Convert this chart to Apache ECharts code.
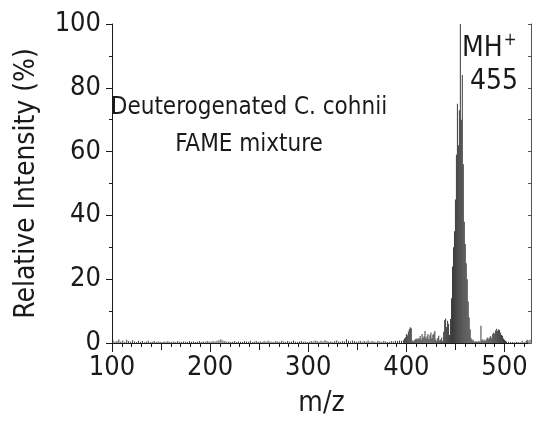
<!DOCTYPE html>
<html>
<head>
<meta charset="utf-8">
<script src="https://cdn.jsdelivr.net/npm/echarts@6/dist/echarts.min.js"></script>
<style>
  html, body { margin: 0; padding: 0; background: #fff; }
  #chart { width: 536px; height: 423px; }
</style>
</head>
<body>
<div id="chart"></div>
<script>
// tick labels
const xTickLabels = [100, 200, 300, 400, 500];
const xMidTicks = [150, 250, 350, 450];
const yTickLabels = [0, 20, 40, 60, 80, 100];

// low level noise, one value every 2 m/z starting at 101
const noiseStart = 101;
const noiseStep = 2;
const noiseInt = [
    0.9, 0.4, 0.6, 1.1, 0.5, 0.8, 0.3, 1.0, 0.6, 0.4, 0.9, 0.5, 0.3, 0.7, 0.4, 0.6, 0.2, 0.5, 0.7, 0.3, 0.4, 0.6, 0.3, 0.5, 0.4,
    0.3, 0.5, 0.4, 0.6, 0.3, 0.4, 0.5, 0.3, 0.6, 0.4, 0.3, 0.5, 0.4, 0.3, 0.6, 0.4, 0.5, 0.3, 0.4, 0.6, 0.3, 0.5, 0.4, 0.6, 0.5,
    0.4, 0.6, 0.5, 0.7, 0.9, 1.2, 0.8, 0.6, 0.4, 0.5, 0.3, 0.4, 0.6, 0.3, 0.5, 0.4, 0.3, 0.6, 0.5, 0.4, 0.7, 0.3, 0.5, 0.6, 0.4,
    0.5, 0.3, 0.6, 0.4, 0.7, 0.5, 0.4, 0.3, 0.6, 0.5, 0.4, 0.7, 0.5, 0.3, 0.6, 0.4, 0.5, 0.8, 0.4, 0.3, 0.5, 0.6, 0.4, 0.5, 0.3,
    0.4, 0.6, 0.5, 0.8, 0.6, 0.4, 0.7, 0.5, 0.9, 0.6, 0.4, 0.5, 0.3, 0.6, 0.8, 0.5, 0.4, 0.6, 0.5, 1.2, 0.7, 0.5, 0.8, 0.6, 0.4,
    0.5, 0.7, 0.4, 0.6, 0.5, 0.8, 0.4, 0.6, 0.5, 0.3, 0.7, 0.5, 0.4, 0.6, 0.5, 0.3, 0.4, 0.6, 0.5, 0.7, 0.6, 0.8, 0.7, 0.9
];

// ion cluster around the MH+ peak: [m/z, relative intensity %]
const clusterPeaks = [
    [398, 1.4], [399, 1.8], [400, 2.8], [401, 2.4], [402, 3.6], [403, 4.4], [404, 4.9], [405, 4.6],
    [406, 0.8], [407, 0.5], [408, 0.9], [409, 1.2], [410, 1.4], [411, 1.1], [412, 1.5], [413, 1.3],
    [414, 2.2], [415, 1.0], [416, 2.8], [417, 1.6], [418, 2.1], [419, 3.8], [420, 1.4], [421, 2.0],
    [422, 2.8], [423, 1.2], [424, 2.4], [425, 3.3], [426, 1.5], [427, 2.6], [428, 3.0], [429, 3.8],
    [430, 1.2], [431, 0.6], [432, 1.6], [433, 2.3], [434, 0.8], [435, 1.1], [436, 1.7], [437, 0.6],
    [438, 3.5], [439, 7.2], [440, 7.7], [441, 5.0], [442, 7.0], [443, 6.0], [444, 2.5], [445, 7.5],
    [446, 14], [447, 24], [448, 30], [449, 35], [450, 45], [451, 59], [452, 75], [453, 62],
    [454, 73], [455, 100], [456, 70], [457, 84], [458, 56], [459, 38], [460, 31], [461, 25],
    [462, 20], [463, 13], [464, 8], [465, 4.3], [466, 1.5], [467, 0.8], [468, 1.1], [469, 0.5],
    [470, 0.4], [471, 0.6], [472, 0.3], [473, 0.5], [474, 0.6], [475, 0.4], [476, 5.4], [477, 0.8],
    [478, 1.2], [479, 0.6], [480, 1.0], [481, 0.7], [482, 1.4], [483, 1.7], [484, 1.2], [485, 1.8],
    [486, 2.2], [487, 1.5], [488, 2.8], [489, 3.3], [490, 3.0], [491, 4.0], [492, 4.5], [493, 3.8],
    [494, 4.3], [495, 4.1], [496, 3.2], [497, 2.5], [498, 2.3], [499, 1.4], [500, 1.0], [501, 0.7],
    [502, 0.5], [504, 0.4], [506, 0.3], [508, 0.3], [510, 0.2], [512, 0.4], [514, 0.3], [516, 0.2],
    [518, 0.7], [520, 0.3], [522, 0.6], [523, 1.0], [524, 0.8], [526, 1.0]
];

const FONT = '"Liberation Sans Narrow", "Arial Narrow", "DejaVu Sans Condensed", sans-serif';
const INK = '#1a1a1a';
const X_MIN = 100, X_MAX = 527;

const spectrum = noiseInt.map((v, i) => [noiseStart + i * noiseStep, v]).concat(clusterPeaks);

const minorX = [];
for (let v = 110; v < X_MAX; v += 10) {
    if (v % 50 !== 0) minorX.push(v);
}

const baseX = {
    type: 'value',
    min: X_MIN,
    max: X_MAX,
    position: 'bottom',
    splitLine: { show: false },
    axisLine: { show: false },
    axisLabel: { show: false }
};

const option = {
    animation: false,
    grid: { left: 112, right: 5, top: 24, bottom: 77 },
    xAxis: [
        Object.assign({}, baseX, {
            axisLine: { show: true, lineStyle: { color: INK, width: 1 } },
            axisTick: { customValues: minorX, length: 4, lineStyle: { color: INK } },
            name: 'm/z',
            nameLocation: 'middle',
            nameGap: 47,
            nameTextStyle: { fontFamily: FONT, fontSize: 28, color: INK }
        }),
        Object.assign({}, baseX, {
            axisTick: { customValues: xMidTicks, length: 7, lineStyle: { color: INK } }
        }),
        Object.assign({}, baseX, {
            axisTick: { customValues: xTickLabels, length: 9, lineStyle: { color: INK } },
            axisLabel: {
                show: true,
                customValues: xTickLabels,
                margin: 11,
                fontFamily: FONT,
                fontSize: 27,
                color: INK
            }
        })
    ],
    yAxis: [
        {
            type: 'value',
            min: 0,
            max: 100,
            interval: 20,
            position: 'left',
            splitLine: { show: false },
            axisLine: { show: true, lineStyle: { color: INK } },
            axisTick: { length: 6, lineStyle: { color: INK } },
            minorTick: { show: true, splitNumber: 2, length: 3, lineStyle: { color: INK } },
            axisLabel: {
                margin: 11,
                fontFamily: FONT,
                fontSize: 27,
                color: INK,
                formatter: (v) => (yTickLabels.indexOf(v) >= 0 ? String(v) : '')
            },
            name: 'Relative Intensity (%)',
            nameLocation: 'middle',
            nameGap: 71,
            nameTextStyle: { fontFamily: FONT, fontSize: 28, color: INK }
        },
        {
            type: 'value',
            min: 0,
            max: 100,
            interval: 10,
            position: 'right',
            splitLine: { show: false },
            axisLine: { show: true, lineStyle: { color: '#555' } },
            axisTick: { inside: true, length: 3, lineStyle: { color: '#555' } },
            axisLabel: { show: false }
        }
    ],
    series: [
        {
            type: 'bar',
            xAxisIndex: 0,
            yAxisIndex: 0,
            barWidth: 1,
            data: spectrum,
            itemStyle: { color: '#3c3c3c' }
        }
    ],
    graphic: [
        {
            type: 'text',
            x: 249,
            y: 89,
            style: {
                text: 'Deuterogenated C. cohnii\nFAME mixture',
                align: 'center',
                verticalAlign: 'top',
                font: '24px ' + FONT,
                fill: INK,
                lineHeight: 37
            }
        },
        {
            type: 'text',
            x: 462,
            y: 32,
            style: {
                text: 'MH{sup|+}\n 455',
                font: '28px ' + FONT,
                fill: INK,
                lineHeight: 33,
                rich: {
                    sup: { fontSize: 17, fontFamily: FONT, verticalAlign: 'top', padding: [0, 0, 12, 1] }
                }
            }
        }
    ]
};

const myChart = echarts.init(document.getElementById('chart'));
myChart.setOption(option);
</script>
</body>
</html>
